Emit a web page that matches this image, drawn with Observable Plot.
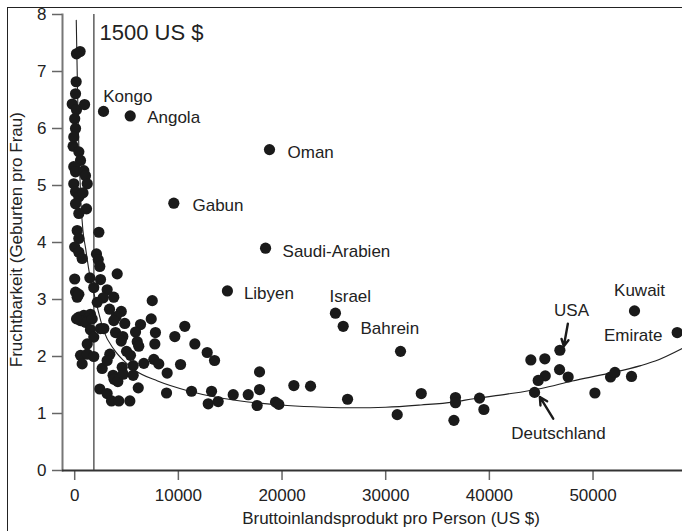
<!DOCTYPE html>
<html><head><meta charset="utf-8">
<script src="https://cdn.jsdelivr.net/npm/d3@7"></script>
<script src="https://cdn.jsdelivr.net/npm/@observablehq/plot@0.6"></script>
<style>
html,body{margin:0;padding:0;background:#fff;overflow:hidden;}
#wrap{position:relative;width:682px;height:531px;overflow:hidden;}
#border{position:absolute;left:7px;top:7px;width:720px;height:620px;border-left:1.5px solid #222;border-top:1.5px solid #222;pointer-events:none;}
</style></head><body>
<div id="wrap"><div id="chart"></div><div id="border"></div></div>
<script>
// GDP per person (US $) and fertility (births per woman)
const gdp = [
 170,520,140,80,-240,170,950,0,80,-90,-150,400,560,-90,80,880,1040,1210,-90,80,400,800,80,1140,400,
 240,400,0,400,720,2330,2100,2270,2420,0,1460,2490,1840,3130,80,240,400,2750,2170,4100,
 400,880,1520,560,1040,1690,180,1520,1840,2490,1210,560,1210,1840,720,2650,
 3360,4490,4000,3770,7380,4830,6350,5870,10620,9660,3940,4640,4490,6030,6180,7790,7730,11590,12780,13490,
 10210,5000,5380,3390,3130,7630,8110,5640,6670,8920,4580,7480,3770,2810,2420,3130,3700,3800,4160,4680,
 3550,4250,5320,5640,6130,8860,11270,13200,12880,13840,15290,16740,17830,17830,17600,19370,19690,21140,22750,
 26320,31110,33430,36730,36730,36580,39050,39470,44000,45350,46770,45390,44710,47600,51690,52110,53710,50180,
 2780,5354,18790,9560,18410,14730,25150,25900,31430,46800,54000,58120,44360
];
const fertility = [
 7.31,7.35,6.82,6.61,6.43,6.33,6.42,6.17,6.00,5.85,5.69,5.59,5.44,5.33,5.24,5.26,5.17,5.03,5.03,4.89,4.80,4.87,4.68,4.59,4.51,
 4.21,4.07,3.92,3.83,3.72,4.18,3.80,3.70,3.58,3.36,3.38,3.35,3.21,3.17,3.13,3.04,3.09,3.03,2.95,3.45,
 2.69,2.72,2.74,2.63,2.60,2.66,2.66,2.47,2.34,2.49,2.22,2.02,2.04,2.00,1.87,1.79,
 2.83,2.79,2.70,2.63,2.66,2.58,2.56,2.43,2.53,2.35,2.42,2.35,2.27,2.26,2.18,2.42,2.22,2.22,2.07,1.93,
 1.86,2.09,2.02,2.04,1.93,1.95,1.87,1.84,1.88,1.71,1.81,2.98,3.04,2.49,1.43,1.35,1.67,1.60,1.56,1.69,
 1.22,1.22,1.22,1.67,1.45,1.36,1.39,1.39,1.17,1.21,1.33,1.33,1.73,1.42,1.14,1.20,1.16,1.49,1.48,
 1.25,0.98,1.35,1.28,1.19,0.88,1.27,1.07,1.94,1.96,1.77,1.66,1.58,1.64,1.64,1.72,1.65,1.36,
 6.30,6.22,5.63,4.69,3.90,3.15,2.76,2.53,2.09,2.11,2.80,2.42,1.37
];

// fitted trend curve
const fitX = [150,250,350,450,600,800,1050,1400,2000,2800,3800,4700,5800,8000,10900,13800,16000,20500,24000,27000,30000,33400,36500,38500,41700,45000,48000,51400,54600,56000,58600];
const fitY = [7.9,6.9,6.0,5.4,4.7,4.2,3.9,3.48,3.0,2.45,2.12,1.93,1.76,1.57,1.40,1.28,1.22,1.14,1.11,1.10,1.11,1.15,1.20,1.26,1.34,1.44,1.57,1.70,1.84,1.92,2.14];

// threshold line
const threshold = [1850];

// annotations (data coordinates)
const labelText = ["Kongo","Angola","Oman","Gabun","Saudi-Arabien","Libyen","Israel","Bahrein","USA","Kuwait","Emirate","Deutschland"];
const labelX = [2750,6990,20530,11360,20050,16320,24580,27570,47930,54490,56700,46670];
const labelY = [6.565,6.20,5.58,4.65,3.84,3.10,3.05,2.49,2.80,3.15,2.37,0.655];
const labelAnchor = ["start","start","start","start","start","start","start","start","middle","middle","end","middle"];

const thresholdLabel = ["1500 US $"];
const thresholdLabelX = [2390];
const thresholdLabelY = [7.67];

const arrowX1 = [47570, 46160];
const arrowY1 = [2.575, 0.91];
const arrowX2 = [47180, 44870];
const arrowY2 = [2.18, 1.29];

const xTicks = [0,10000,20000,30000,40000,50000];
const yTicks = [0,1,2,3,4,5,6,7,8];
const xLabel = "Bruttoinlandsprodukt pro Person (US $)";
const yLabel = "Fruchtbarkeit (Geburten pro Frau)";

const points = gdp.map((g,i)=>({gdp:g, fert:fertility[i]}));
const fit = fitX.map((x,i)=>({x, y:fitY[i]}));
const labels = labelText.map((t,i)=>({t, x:labelX[i], y:labelY[i], a:labelAnchor[i]}));
const arrows = arrowX1.map((x,i)=>({x1:x, y1:arrowY1[i], x2:arrowX2[i], y2:arrowY2[i]}));

const font = "'Liberation Sans', Arial, Helvetica, sans-serif";
const txt = "#222";

const labelMarks = ["start","middle","end"].map(a =>
  Plot.text(labels.filter(d=>d.a===a), {x:"x", y:"y", text:"t", textAnchor:a, fontSize:17, fill:txt, lineAnchor:"middle"}));

const chart = Plot.plot({
  width: 682, height: 531,
  marginLeft: 62, marginRight: 0, marginTop: 14, marginBottom: 61,
  x: {domain: [-1177, 58630]},
  y: {domain: [0, 8]},
  style: {fontFamily: font, fontSize: "17px", color: txt, background: "#fff", overflow: "visible"},
  marks: [
    Plot.frame({anchor: "left", stroke: "#777", strokeWidth: 2}),
    Plot.axisY({ticks: yTicks, tickSize: 10, tickPadding: 6, stroke: "#666", strokeWidth: 1.5, fontSize: 17, label: null, tickFormat: d => String(d)}),
    Plot.axisX({ticks: xTicks, tickSize: 10, tickPadding: 8, stroke: "#666", strokeWidth: 1.5, fontSize: 17, label: null, tickFormat: d => String(d)}),
    Plot.ruleY([0], {stroke: "#333", strokeWidth: 1.8}),
    Plot.ruleX(threshold, {y1: 0, y2: 8, stroke: "#444", strokeWidth: 1.3}),
    Plot.line(fit, {x: "x", y: "y", curve: "monotone-x", stroke: "#222", strokeWidth: 1.1, clip: true}),
    Plot.dot(points, {x: "gdp", y: "fert", r: 5.6, fill: "#1a1a1a", stroke: "none"}),
    Plot.arrow(arrows, {x1: "x1", y1: "y1", x2: "x2", y2: "y2", stroke: "#1a1a1a", strokeWidth: 2.4, headLength: 9, headAngle: 55}),
    ...labelMarks,
    Plot.text(thresholdLabel, {x: thresholdLabelX, y: thresholdLabelY, text: d => d, textAnchor: "start", fontSize: 22, fill: txt}),
    Plot.text([xLabel], {x: [30510], frameAnchor: "bottom", dy: 53, text: d => d, fontSize: 17, fill: txt, textAnchor: "middle"}),
    Plot.text([yLabel], {y: [4.05], frameAnchor: "left", dx: -46, rotate: -90, text: d => d, fontSize: 17, fill: txt, textAnchor: "middle"})
  ]
});
document.getElementById("chart").appendChild(chart);
</script>
</body></html>
